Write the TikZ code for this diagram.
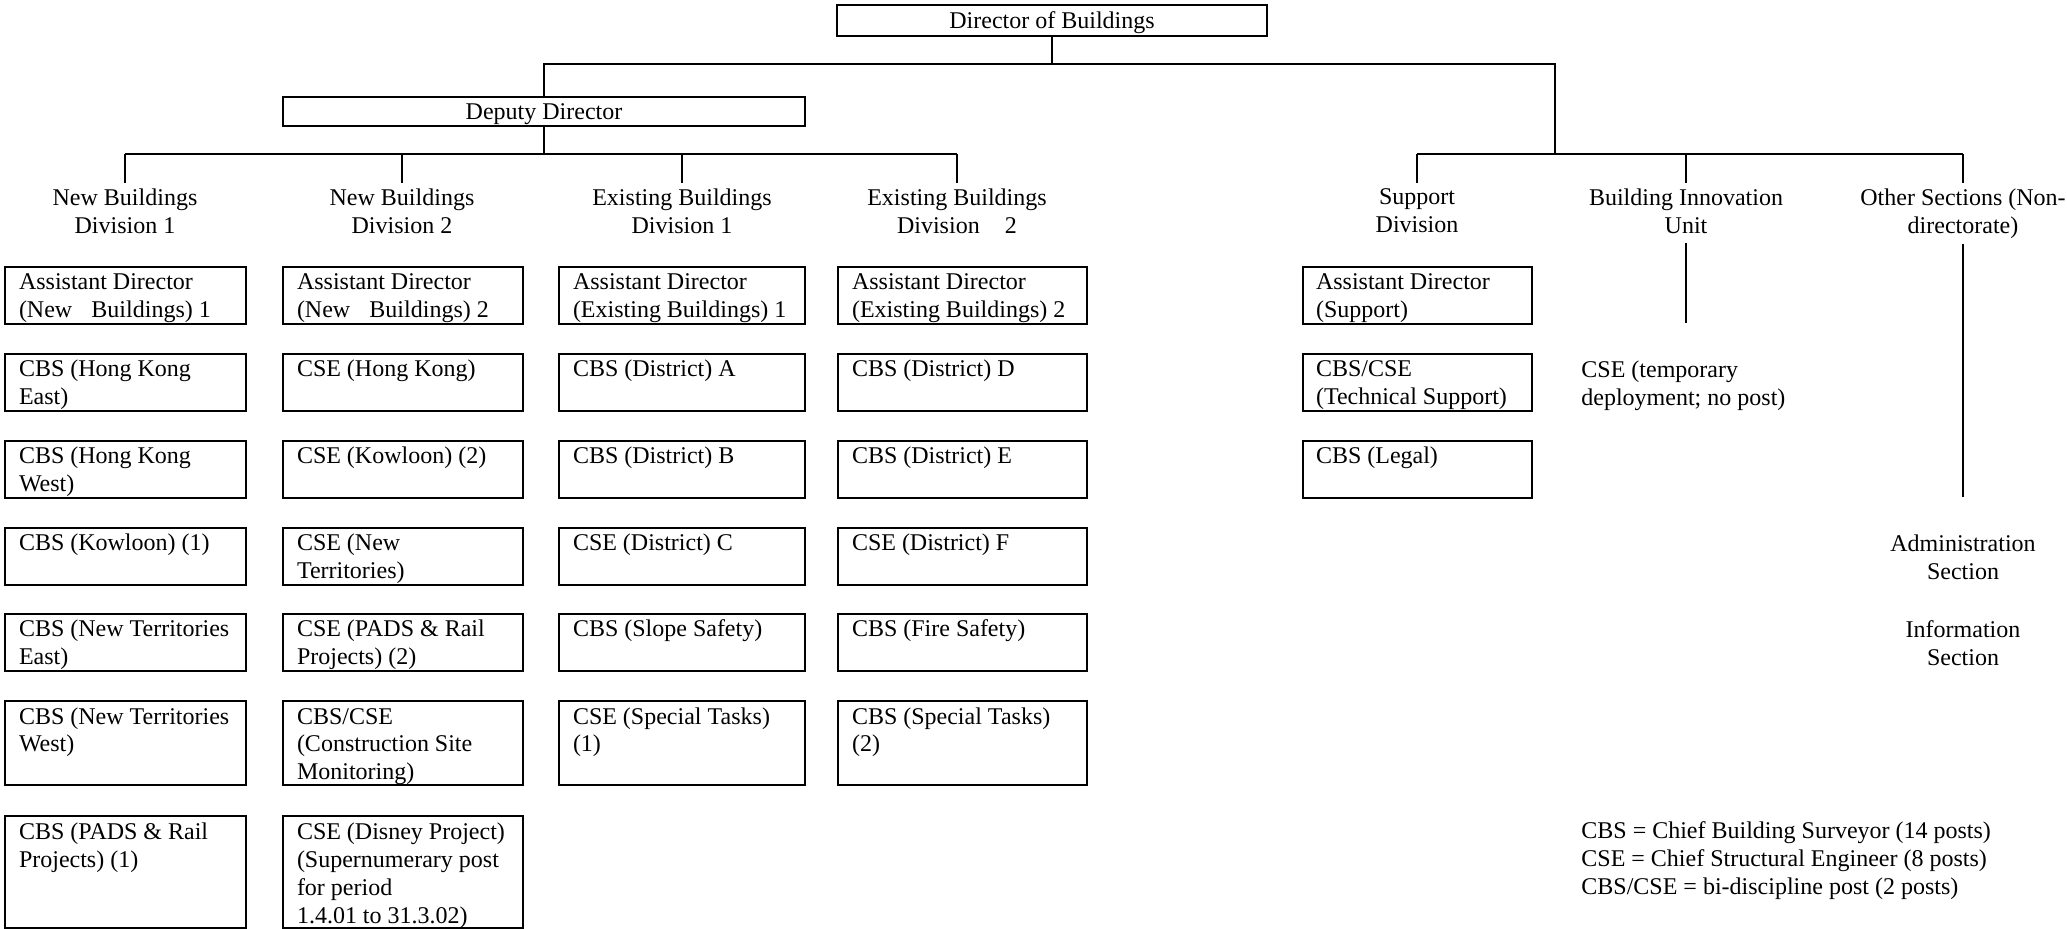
\documentclass[tikz,border=0pt]{standalone}
\usepackage{fontspec}
\setmainfont{Liberation Serif}
\begin{document}
\begin{tikzpicture}[x=0.5pt,y=-0.5pt,
  font=\fontsize{12}{14}\selectfont,
  head/.style={draw,line width=1pt,anchor=north west,inner sep=0pt,text depth=0pt},
  post/.style={draw,line width=1pt,anchor=north west,inner sep=0pt},
  lab/.style={align=center,inner sep=0pt,anchor=north},
  note/.style={align=left,inner sep=0pt,anchor=north west},
  conn/.style={line width=0.8pt}]
  \useasboundingbox (0,0) rectangle (2067,929);

  % top of the tree
  \node[head,minimum width=215pt,minimum height=15.5pt] (dir) at (836,4) {Director of Buildings};
  \node[head,minimum width=261pt,minimum height=14.5pt] (dep) at (282,96) {Deputy Director};
  \coordinate (j1) at (0,64);
  \coordinate (j2) at (0,154);
  \coordinate (rt) at (1555,154);

  % divisions
  \node[lab] (nb1) at (125,188) {New Buildings\\Division 1};
  \node[lab] (nb2) at (402,188) {New Buildings\\Division 2};
  \node[lab] (eb1) at (682,188) {Existing Buildings\\Division 1};
  \node[lab] (eb2) at (957,188) {Existing Buildings\\Division\hspace{1.05em}2};
  \node[lab] (sup) at (1417,188) {Support\\Division};
  \node[lab] (biu) at (1686,188) {Building Innovation\\Unit};
  \node[lab] (oth) at (1963,188) {Other Sections (Non-\\directorate)};

  \draw[conn] (dir.south) -- (dir.south |- j1);
  \draw[conn] (dep.north) |- (rt |- j1) -- (rt);
  \draw[conn] (dep.south) -- (dep.south |- j2);
  \draw[conn] (nb1.north |- j2) -- (eb2.north |- j2);
  \draw[conn] (sup.north |- j2) -- (oth.north |- j2);
  \foreach \d in {nb1,nb2,eb1,eb2,sup,biu,oth}
    \draw[conn,shorten >=2.5pt] (\d.north |- j2) -- (\d.north);

  \coordinate (biuend) at (1686,323);
  \coordinate (othend) at (1963,497);
  \draw[conn,shorten <=4.5pt] (biu.south) -- (biuend);
  \draw[conn,shorten <=2.5pt] (oth.south) -- (othend);

  % posts
  \foreach \nm/\y/\h/\txt in {
    nb1a/266/57/{Assistant Director\\(New\hspace{0.8em}Buildings) 1},
    nb1b/353/57/{CBS (Hong Kong\\East)},
    nb1c/440/57/{CBS (Hong Kong\\West)},
    nb1d/527/57/{CBS (Kowloon) (1)},
    nb1e/613/57/{CBS (New Territories\\East)},
    nb1f/700/84/{CBS (New Territories\\West)},
    nb1g/815/112/{CBS (PADS \& Rail\\Projects) (1)}}
    \node[post] (\nm) at (4,\y)
      {\hspace*{7pt}\parbox[c][\dimexpr\h pt/2\relax][t]{113.5pt}{\raggedright\rule{0pt}{11.5pt}\txt}};

  \foreach \nm/\y/\h/\txt in {
    nb2a/266/57/{Assistant Director\\(New\hspace{0.8em}Buildings) 2},
    nb2b/353/57/{CSE (Hong Kong)},
    nb2c/440/57/{CSE (Kowloon) (2)},
    nb2d/527/57/{CSE (New\\Territories)},
    nb2e/613/57/{CSE (PADS \& Rail\\Projects) (2)},
    nb2f/700/84/{CBS/CSE\\(Construction Site\\Monitoring)},
    nb2g/815/112/{CSE (Disney Project)\\(Supernumerary post\\for period\\1.4.01 to 31.3.02)}}
    \node[post] (\nm) at (282,\y)
      {\hspace*{7pt}\parbox[c][\dimexpr\h pt/2\relax][t]{113pt}{\raggedright\rule{0pt}{11.5pt}\txt}};

  \foreach \nm/\y/\h/\txt in {
    eb1a/266/57/{Assistant Director\\(Existing Buildings) 1},
    eb1b/353/57/{CBS (District) A},
    eb1c/440/57/{CBS (District) B},
    eb1d/527/57/{CSE (District) C},
    eb1e/613/57/{CBS (Slope Safety)},
    eb1f/700/84/{CSE (Special Tasks)\\(1)}}
    \node[post] (\nm) at (558,\y)
      {\hspace*{7pt}\parbox[c][\dimexpr\h pt/2\relax][t]{116pt}{\raggedright\rule{0pt}{11.5pt}\txt}};

  \foreach \nm/\y/\h/\txt in {
    eb2a/266/57/{Assistant Director\\(Existing Buildings) 2},
    eb2b/353/57/{CBS (District) D},
    eb2c/440/57/{CBS (District) E},
    eb2d/527/57/{CSE (District) F},
    eb2e/613/57/{CBS (Fire Safety)},
    eb2f/700/84/{CBS (Special Tasks)\\(2)}}
    \node[post] (\nm) at (837,\y)
      {\hspace*{7pt}\parbox[c][\dimexpr\h pt/2\relax][t]{117.5pt}{\raggedright\rule{0pt}{11.5pt}\txt}};

  \foreach \nm/\y/\h/\txt in {
    supa/266/57/{Assistant Director\\(Support)},
    supb/353/57/{CBS/CSE\\(Technical Support)},
    supc/440/57/{CBS (Legal)}}
    \node[post] (\nm) at (1302,\y)
      {\hspace*{6.5pt}\parbox[c][\dimexpr\h pt/2\relax][t]{108pt}{\raggedright\rule{0pt}{11.5pt}\txt}};

  % free text
  \node[note] (tmp) at (1581,360) {CSE (temporary\\deployment; no post)};
  \node[lab] (adm) at (1963,534) {Administration\\Section};
  \node[lab] (inf) at (1963,620) {Information\\Section};
  \node[note] (key) at (1581,821)
    {CBS = Chief Building Surveyor (14 posts)\\CSE = Chief Structural Engineer (8 posts)\\CBS/CSE = bi-discipline post (2 posts)};
\end{tikzpicture}
\end{document}
